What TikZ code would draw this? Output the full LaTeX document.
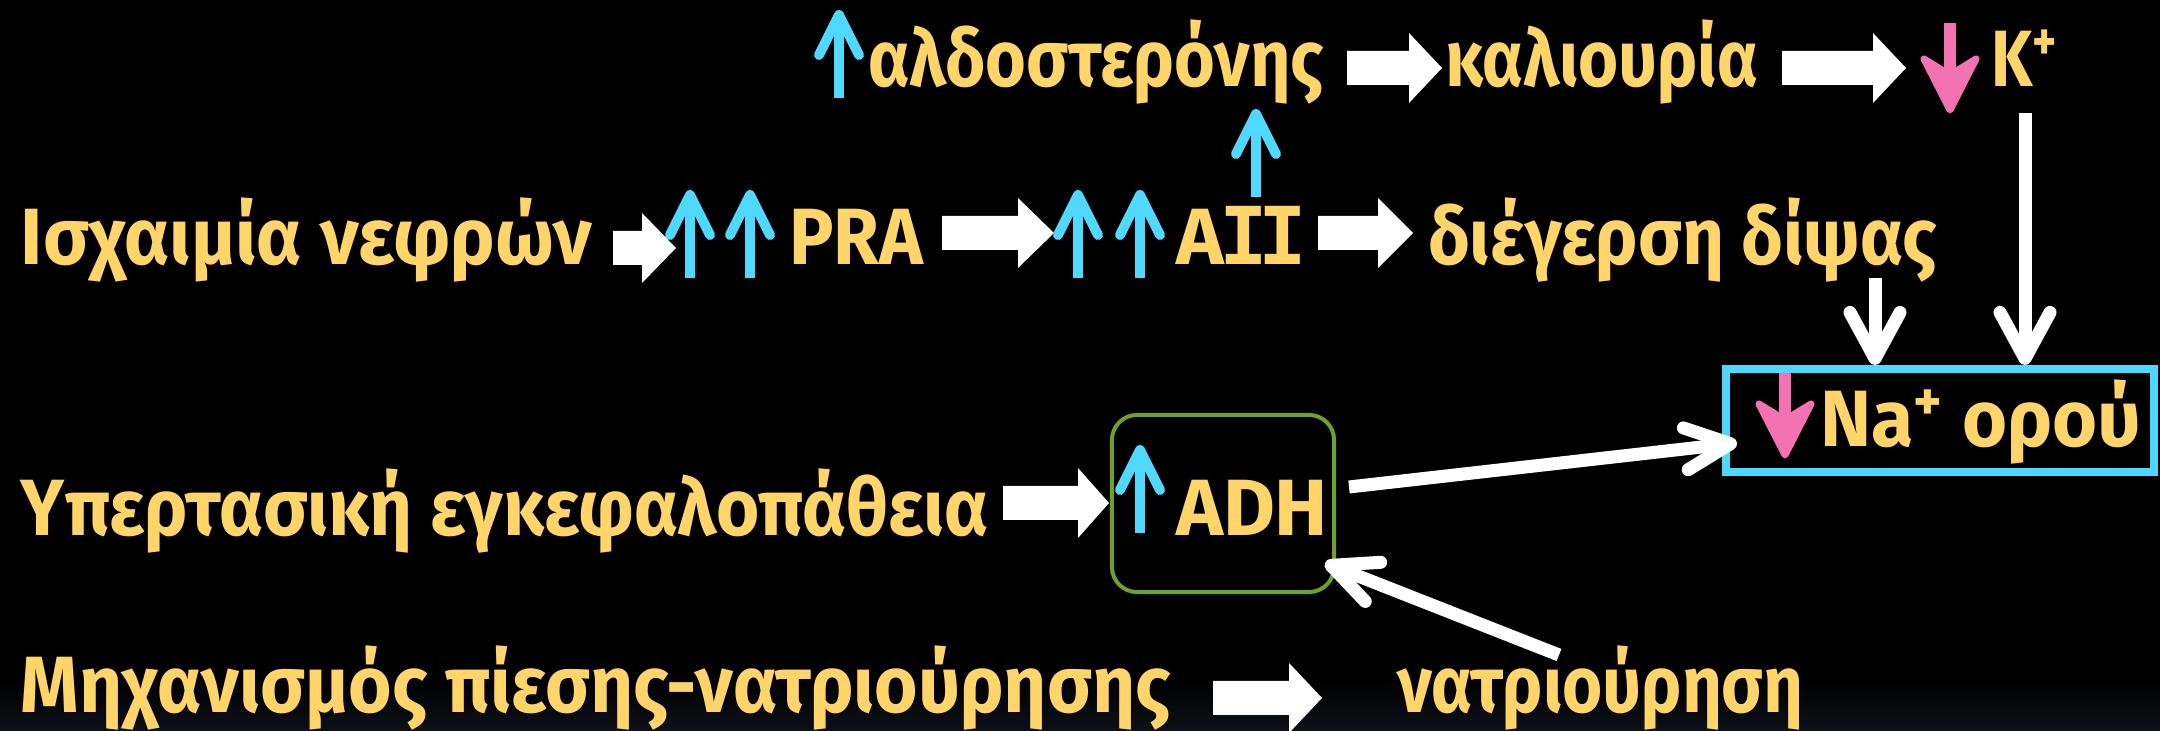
\documentclass[tikz,border=0pt]{standalone}
\usepackage{fontspec}
\setmainfont{Fira Sans}
\newfontfamily\monoI{DejaVu Sans Mono}
\usetikzlibrary{arrows.meta}
\definecolor{txt}{HTML}{FFD469}
\definecolor{upb}{HTML}{50D8FF}
\definecolor{pnk}{HTML}{F272B2}
\definecolor{grn}{HTML}{6BA22E}
\definecolor{cyb}{HTML}{4FD8FF}
\definecolor{bot}{HTML}{0D1118}
\newcommand\fitw[2]{\resizebox{#1}{\height}{#2}}
\newcommand\blockarr[4]{% x0, xhead, xtip, ymid
  \fill[white] (#1,{#4-17}) -- (#2,{#4-17}) -- (#2,{#4-35}) -- (#3,#4) -- (#2,{#4+35}) -- (#2,{#4+17}) -- (#1,{#4+17}) -- cycle;}
\newcommand\pinkdown[3]{% x, ytop, ytip
  \draw[draw=pnk,line width=0.12cm] (#1,#2) -- (#1,{#3-36});
  \filldraw[draw=pnk,fill=pnk,line width=0.07cm,line join=round] (#1,{#3-3}) -- ({#1-26},{#3-54}) -- (#1,{#3-38}) -- ({#1+26},{#3-54}) -- cycle;}
\begin{document}
\begin{tikzpicture}[x=0.01cm,y=-0.01cm,
  lbl/.style={anchor=base west,inner sep=0pt,outer sep=0pt,text=txt,font=\fontsize{22.7}{27}\selectfont\bfseries},
  uparr/.style={draw=upb,line width=0.1cm,-{Straight Barb[length=0.4cm,width=0.4cm,round]}},
  thinw/.style={draw=white,line width=0.13cm,-{Straight Barb[length=0.46cm,width=0.5cm,round]}},
  thickw/.style={draw=white,line width=0.13cm,-{Straight Barb[length=0.45cm,width=0.42cm,round]}},
  boxg/.style={draw=grn,line width=0.04cm,rounded corners=0.25cm},
  boxc/.style={draw=cyb,line width=0.08cm}
]
\useasboundingbox (0,0) rectangle (2160,731);
\fill[black] (0,0) rectangle (2160,731);
\shade[top color=black,bottom color=bot] (0,680) rectangle (2160,731);

% text nodes
\node[lbl] (ald) at (868,87) {\fitw{4.56cm}{αλδοστερόνης}};
\node[lbl] (kal) at (1445,87) {\fitw{3.13cm}{καλιουρία}};
\node[lbl] (k) at (1991,87) {\fitw{0.67cm}{K\textsuperscript{+}}};
\node[lbl] (isch) at (21,265) {\fitw{5.71cm}{Ισχαιμία νεφρών}};
\node[lbl] (pra) at (789,265) {\fitw{1.34cm}{PRA}};
\node[lbl] (aii) at (1176,265) {\fitw{1.31cm}{A{\monoI\kern-0.05em I\kern-0.12em I}}};
\node[lbl] (dips) at (1428,265) {\fitw{5.09cm}{διέγερση δίψας}};
\node[lbl] (yper) at (21,536) {\fitw{9.67cm}{Υπερτασική εγκεφαλοπάθεια}};
\node[lbl] (adh) at (1176,536) {\fitw{1.52cm}{ADH}};
\node[lbl] (na) at (1820,447) {\fitw{3.21cm}{Na\textsuperscript{+} ορού}};
\node[lbl] (mech) at (21,713) {\fitw{11.49cm}{Μηχανισμός πίεσης-νατριούρησης}};
\node[lbl] (natr) at (1397,713) {\fitw{4.06cm}{νατριούρηση}};

% boxes
\node[boxg,minimum width=2.22cm,minimum height=1.77cm,inner sep=0pt] (adhbox) at (1223,503.5) {};
\node[boxc,minimum width=4.28cm,minimum height=1.03cm,inner sep=0pt] (nabox) at (1940,420.5) {};

% block arrows
\blockarr{613}{642}{676}{248}
\blockarr{942}{1018}{1054}{233}
\blockarr{1347}{1409}{1442}{68}
\blockarr{1782}{1873}{1906}{68}
\blockarr{1318}{1378}{1413}{233}
\blockarr{1003}{1078}{1109}{503}
\blockarr{1213}{1289}{1322}{698}

% up / down markers
\draw[uparr] (839,98) -- (839,10);
\draw[uparr] (690,278) -- (690,190);
\draw[uparr] (750,278) -- (750,190);
\draw[uparr] (1078,278) -- (1078,190);
\draw[uparr] (1140,278) -- (1140,190);
\draw[uparr] (1140,533) -- (1140,445);
\coordinate (aiitop) at (1256,197);
\coordinate (aldbot) at (1256,109);
\draw[uparr] (aiitop) -- (aldbot);
\pinkdown{1950}{23}{113}
\pinkdown{1785}{373}{458}

% connectors
\coordinate (kdown) at (2025,113);
\coordinate (ddown) at (1875,278);
\draw[thinw] (kdown) -- (kdown |- nabox.north);
\draw[thinw] (ddown) -- (ddown |- nabox.north);
\coordinate (adhout) at (1349,487);
\coordinate (nain) at (1737,443);
\draw[thickw] (adhout) -- (nain);
\coordinate (natrout) at (1559,655);
\coordinate (adhin) at (1325,563);
\draw[thickw] (natrout) -- (adhin);
\end{tikzpicture}
\end{document}
